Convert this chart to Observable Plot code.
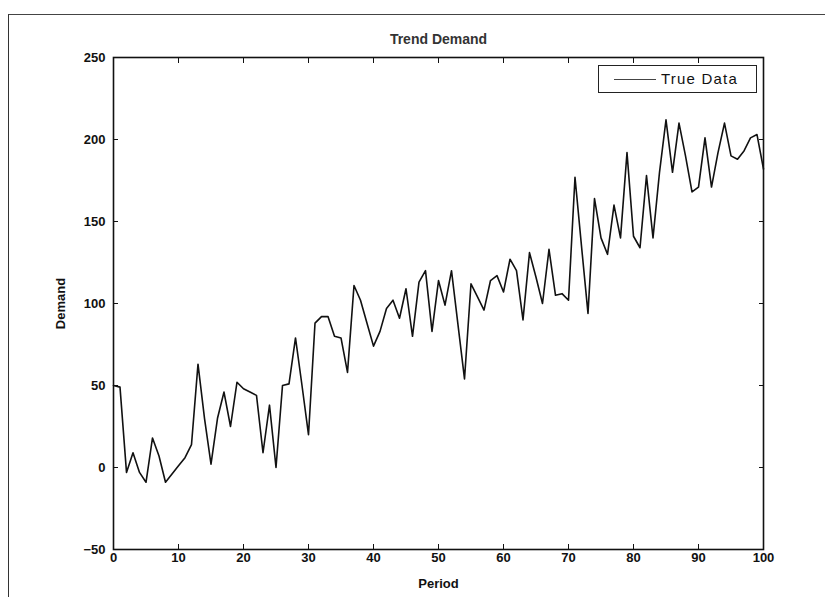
<!DOCTYPE html>
<html>
<head>
<meta charset="utf-8">
<script src="https://cdn.jsdelivr.net/npm/d3@7"></script>
<script src="https://cdn.jsdelivr.net/npm/@observablehq/plot@0.6"></script>
<style>
  body { margin: 0; background: #fff; font-family: "Liberation Sans", Arial, sans-serif; }
  #fig { position: relative; width: 825px; height: 597px; overflow: hidden; background: #fff; }
  #sheet { position: absolute; left: 8px; top: 14px; width: 830px; height: 600px;
           border-top: 1.5px solid #444; border-left: 1.5px solid #333; }
  #fig svg { position: absolute; left: 0; top: 0; }
  #legend { position: absolute; left: 598px; top: 65px; width: 157px; height: 26px;
            border: 1.5px solid #222; background: #fff; }
  #legend .swatch { position: absolute; left: 15px; top: 13px; width: 42px; height: 0;
                    border-top: 1px solid #444; }
  #legend .lbl { position: absolute; left: 62px; top: 4px; font-size: 15px; letter-spacing: 1.2px; color: #111; }
</style>
</head>
<body>
<div id="fig">
  <div id="sheet"></div>
</div>
<script>
// Demand observed in each period (period = position in the list, 0..100)
const seriesName = "True Data";
const demand = [
  50, 49, -3, 9, -3, -9, 18, 7, -9, -4,
  1, 6, 14, 63, 30, 2, 30, 46, 25, 52,
  48, 46, 44, 9, 38, 0, 50, 51, 79, 50,
  20, 88, 92, 92, 80, 79, 58, 111, 102, 88,
  74, 83, 97, 102, 91, 109, 80, 113, 120, 83,
  114, 99, 120, 87, 54, 112, 104, 96, 114, 117,
  107, 127, 120, 90, 131, 116, 100, 133, 105, 106,
  102, 177, 135, 94, 164, 140, 130, 160, 140, 192,
  141, 134, 178, 140, 180, 212, 180, 210, 190, 168,
  171, 201, 171, 192, 210, 190, 188, 193, 201, 203,
  182
];
const xTicks = [0, 10, 20, 30, 40, 50, 60, 70, 80, 90, 100];
const yTicks = [-50, 0, 50, 100, 150, 200, 250];
const titleText = "Trend Demand";
const xLabel = "Period";
const yLabel = "Demand";

const rows = demand.map((v, i) => ({period: i, demand: v}));

const boldTick = {fontWeight: "bold", fontSize: 13};

const chart = Plot.plot({
  width: 825,
  height: 597,
  marginLeft: 113,
  marginRight: 62,
  marginTop: 57,
  marginBottom: 48,
  style: {fontFamily: "'Liberation Sans', Arial, sans-serif", fontSize: "13px", color: "#111", background: "transparent"},
  x: {domain: [0, 100]},
  y: {domain: [-50, 250]},
  marks: [
    Plot.frame({stroke: "#111", strokeWidth: 1.6, fill: "white"}),
    // inward ticks with labels on bottom and left
    Plot.axisX(xTicks, {anchor: "bottom", tickSize: -5, tickPadding: 8, ...boldTick,
      label: xLabel, labelAnchor: "center", labelArrow: "none", labelOffset: 38}),
    Plot.axisY(yTicks, {anchor: "left", tickSize: -5, tickPadding: 13, ...boldTick,
      label: yLabel, labelAnchor: "center", labelArrow: "none", labelOffset: 58}),
    // inward ticks without labels on top and right
    Plot.axisX(xTicks, {anchor: "top", tickSize: -5, tickFormat: () => "", label: null}),
    Plot.axisY(yTicks, {anchor: "right", tickSize: -5, tickFormat: () => "", label: null}),
    Plot.line(rows, {x: "period", y: "demand", stroke: "#111", strokeWidth: 1.6}),
    Plot.text([titleText], {frameAnchor: "top", dy: -23, fontWeight: "bold", fontSize: 14, fill: "#333"})
  ]
});

const fig = document.getElementById("fig");
fig.appendChild(chart);

const legend = document.createElement("div");
legend.id = "legend";
legend.innerHTML = `<div class="swatch"></div><div class="lbl"></div>`;
legend.querySelector(".lbl").textContent = seriesName;
fig.appendChild(legend);
</script>
</body>
</html>
